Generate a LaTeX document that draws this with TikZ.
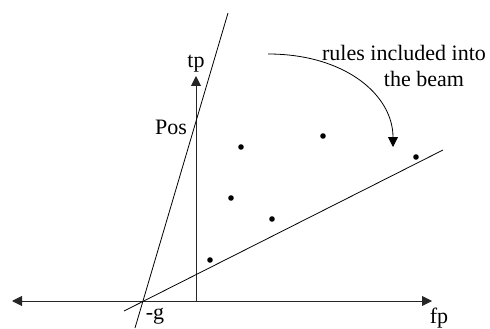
\documentclass[tikz,border=0pt]{standalone}
\usepackage{fontspec}
\setmainfont{Liberation Serif}
\usetikzlibrary{arrows.meta}
\tikzset{
	axisedge/.style={draw=black!85,line width=0.9pt},
	beamedge/.style={draw=black,line width=0.8pt},
	ruledot/.style={circle,fill=black,inner sep=0pt,minimum size=5.6pt},
	plotlabel/.style={inner sep=0pt,anchor=base,font=\fontsize{22}{26}\selectfont}
}

\begin{document}
\begin{tikzpicture}[x=1pt,y=-1pt,
			>={Triangle[length=10pt,width=10pt]}]
			\useasboundingbox (0,0) rectangle (490,329);
			
			% axes
			\coordinate (origin) at (196,301);
			\coordinate (fpleft) at (12,301);
			\coordinate (fpright) at (432,301);
			\coordinate (tptop) at (196,76);
			\draw[axisedge,<->] (fpleft) -- (fpright);
			\draw[axisedge,->] (origin) -- (tptop);
			
			% beam borders
			\coordinate (steeptop) at (228,13);
			\coordinate (steepbot) at (135,328);
			\coordinate (flatleft) at (124,311);
			\coordinate (flatright) at (443,150);
			\draw[beamedge] (steepbot) -- (steeptop);
			\draw[beamedge] (flatleft) -- (flatright);
			
			% rules
			\foreach \p [count=\i] in {(241,147),(323,136),(416,157),(231,198),(272,219),(210,260)}
			\node[ruledot] (rule\i) at \p {};
			
			\node[plotlabel] (tp) at (196,67) {tp};
			\node[plotlabel] (pos) at (171,134) {Pos};
			\node[plotlabel] (minusg) at (155,319) {-g};
			\node[plotlabel] (fp) at (439,323) {fp};
			\node[plotlabel] (note1) at (404,60) {rules included into};
			\node[plotlabel] (note2) at (424,86) {the beam};
			
			\coordinate (bendstart) at (268,54);
			\coordinate (bendend) at (393,147);
			\draw[beamedge,->] (bendstart) .. controls (345,54) and (393,95) .. (bendend);
		\end{tikzpicture}
\end{document}
